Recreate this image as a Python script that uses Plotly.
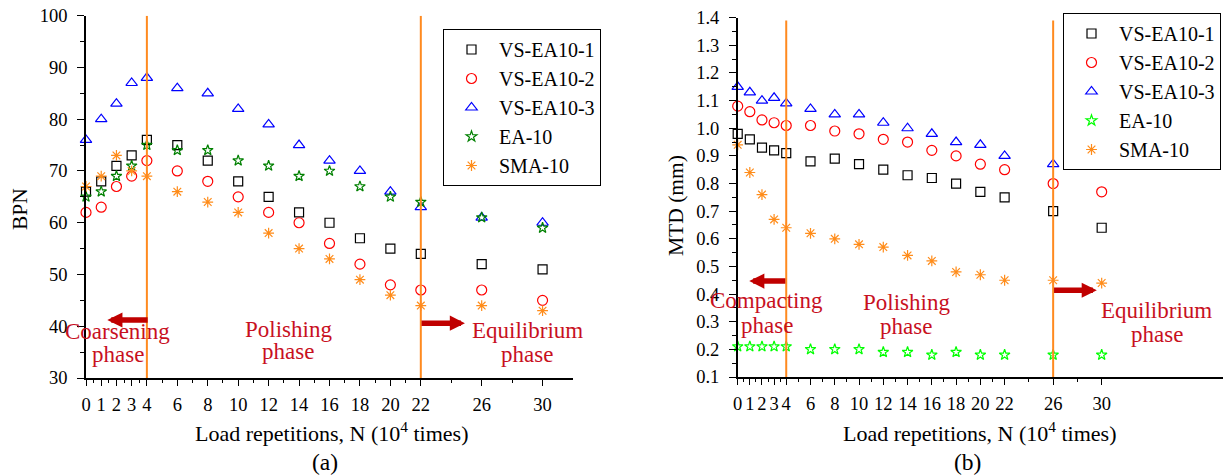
import plotly.graph_objects as go

# Load repetitions (x 10^4)
N = [0, 1, 2, 3, 4, 6, 8, 10, 12, 14, 16, 18, 20, 22, 26, 30]

# (a) British Pendulum Number
bpn_vs1 = [66, 68, 71, 73, 76, 75, 72, 68, 65, 62, 60, 57, 55, 54, 52, 51]
bpn_vs2 = [62, 63, 67, 69, 72, 70, 68, 65, 62, 60, 56, 52, 48, 47, 47, 45]
bpn_vs3 = [76, 80, 83, 87, 88, 86, 85, 82, 79, 75, 72, 70, 66, 63, 61, 60]
bpn_ea = [65, 66, 69, 71, 75, 74, 74, 72, 71, 69, 70, 67, 65, 64, 61, 59]
bpn_sma = [67, 69, 73, 70, 69, 66, 64, 62, 58, 55, 53, 49, 46, 44, 44, 43]

# (b) Mean texture depth (mm)
mtd_vs1 = [0.98, 0.96, 0.93, 0.92, 0.91, 0.88, 0.89, 0.87, 0.85, 0.83, 0.82, 0.80, 0.77, 0.75, 0.70, 0.64]
mtd_vs2 = [1.08, 1.06, 1.03, 1.02, 1.01, 1.01, 0.99, 0.98, 0.96, 0.95, 0.92, 0.90, 0.87, 0.85, 0.80, 0.77]
mtd_vs3 = [1.15, 1.13, 1.10, 1.11, 1.09, 1.07, 1.05, 1.05, 1.02, 1.00, 0.98, 0.95, 0.94, 0.90, 0.87, 0.86]
mtd_ea = [0.21, 0.21, 0.21, 0.21, 0.21, 0.20, 0.20, 0.20, 0.19, 0.19, 0.18, 0.19, 0.18, 0.18, 0.18, 0.18]
mtd_sma = [0.94, 0.84, 0.76, 0.67, 0.64, 0.62, 0.60, 0.58, 0.57, 0.54, 0.52, 0.48, 0.47, 0.45, 0.45, 0.44]

series_names = ["VS-EA10-1", "VS-EA10-2", "VS-EA10-3", "EA-10", "SMA-10"]
x_tick_vals = [0, 1, 2, 3, 4, 6, 8, 10, 12, 14, 16, 18, 20, 22, 26, 30]
x_minor_vals = [0.5, 1.5, 2.5, 3.5, 5, 7, 9, 11, 13, 15, 17, 19, 21, 24, 28]

W, H = 1223, 475
FONT = "Liberation Serif"
PHASE_RED = "#c8101e"
ARROW_RED = "#c00000"
ORANGE = "#ff8a1f"

styles = [
    dict(symbol="square-open", size=9, color="#000000"),
    dict(symbol="circle-open", size=10, color="#ff0000"),
    dict(symbol="triangle-up-open", size=10, color="#0000ff"),
    dict(symbol="star-open", size=8, color="#008000"),
    dict(symbol="asterisk-open", size=9, color="#ff8c1a"),
]

fig = go.Figure()

left_sets = [bpn_vs1, bpn_vs2, bpn_vs3, bpn_ea, bpn_sma]
right_sets = [mtd_vs1, mtd_vs2, mtd_vs3, mtd_ea, mtd_sma]

for name, vals, st in zip(series_names, left_sets, styles):
    fig.add_trace(go.Scatter(
        x=N, y=vals, mode="markers", name=name, legend="legend",
        xaxis="x", yaxis="y", cliponaxis=False,
        marker=dict(symbol=st["symbol"], size=st["size"], color=st["color"],
                    line=dict(width=1.2, color=st["color"])),
    ))

for name, vals, st in zip(series_names, right_sets, styles):
    col = "#00ff00" if name == "EA-10" else st["color"]
    fig.add_trace(go.Scatter(
        x=N, y=vals, mode="markers", name=name, legend="legend2",
        xaxis="x2", yaxis="y2", cliponaxis=False,
        marker=dict(symbol=st["symbol"], size=st["size"], color=col,
                    line=dict(width=1.2, color=col)),
    ))

def px_x(p):
    return p / W

def px_y(p):
    return 1 - p / H

common_x = dict(
    tickmode="array", tickvals=x_tick_vals, ticktext=[str(v) for v in x_tick_vals],
    ticks="outside", ticklen=6, tickwidth=1.2, tickcolor="black",
    showline=True, linecolor="black", linewidth=1.5, showgrid=False, zeroline=False,
    tickfont=dict(family=FONT, size=18.5, color="black"), ticklabelstandoff=3,
    minor=dict(tickmode="array", tickvals=x_minor_vals, ticks="outside", ticklen=3.5,
               tickwidth=1.2, tickcolor="black", showgrid=False),
)
common_y = dict(
    ticks="outside", ticklen=7, tickwidth=1.2, tickcolor="black",
    showline=True, linecolor="black", linewidth=1.5, showgrid=False, zeroline=False,
    tickfont=dict(family=FONT, size=18.5, color="black"), ticklabelstandoff=6,
)

legend_style = dict(xanchor="left", yanchor="top", bgcolor="white",
                    bordercolor="black", borderwidth=1, itemwidth=45,
                    font=dict(family=FONT, size=20, color="black"))

fig.update_layout(
    width=W, height=H,
    margin=dict(l=0, r=0, t=0, b=0, autoexpand=False),
    paper_bgcolor="white", plot_bgcolor="white",
    font=dict(family=FONT, color="black"),
    xaxis=dict(domain=[px_x(86), px_x(573)], range=[0, 32], anchor="y", **common_x),
    yaxis=dict(domain=[px_y(378), px_y(15.7)], range=[30, 100], anchor="x",
               tickmode="array", tickvals=[30, 40, 50, 60, 70, 80, 90, 100],
               minor=dict(dtick=5, ticks="outside", ticklen=4, tickwidth=1.2,
                          tickcolor="black", showgrid=False),
               **common_y),
    xaxis2=dict(domain=[px_x(737.7), 1.0], range=[0, 40], anchor="y2", **common_x),
    yaxis2=dict(domain=[px_y(377), px_y(17.7)], range=[0.1, 1.4], anchor="x2",
                tickmode="linear", tick0=0.1, dtick=0.1, tickformat=".1f",
                minor=dict(dtick=0.05, ticks="outside", ticklen=4, tickwidth=1.2,
                           tickcolor="black", showgrid=False),
                **common_y),
    legend=dict(x=px_x(443), y=px_y(29), **legend_style),
    legend2=dict(x=px_x(1063), y=px_y(13), **legend_style),
)

# Phase boundaries
for xv, xr, yr, y0, y1 in [(4, "x", "y", 30, 100), (22, "x", "y", 30, 100),
                           (4, "x2", "y2", 0.1, 1.39), (26, "x2", "y2", 0.1, 1.39)]:
    fig.add_shape(type="line", xref=xr, yref=yr, x0=xv, x1=xv, y0=y0, y1=y1,
                  line=dict(color=ORANGE, width=2), layer="above")

# Phase arrows (tip, tail)
arrows = [
    ("x", "y", 1.4, 41.2, 4.15, 41.2),
    ("x", "y", 24.9, 40.6, 21.95, 40.6),
    ("x2", "y2", 0.95, 0.447, 4.05, 0.447),
    ("x2", "y2", 29.6, 0.414, 25.95, 0.414),
]
for xr, yr, x, y, ax, ay in arrows:
    fig.add_annotation(xref=xr, yref=yr, x=x, y=y, ax=ax, ay=ay, axref=xr, ayref=yr,
                       text="", showarrow=True, arrowhead=2, arrowsize=0.55,
                       arrowwidth=5.5, arrowcolor=ARROW_RED, standoff=0)

# Phase labels
phase_labels = [
    ("x", "y", 2.1, 38.9, "Coarsening"), ("x", "y", 2.1, 34.6, "phase"),
    ("x", "y", 13.3, 39.4, "Polishing"), ("x", "y", 13.3, 35.2, "phase"),
    ("x", "y", 29.0, 39.2, "Equilibrium"), ("x", "y", 29.0, 34.6, "phase"),
    ("x2", "y2", 2.4, 0.375, "Compacting"), ("x2", "y2", 2.4, 0.288, "phase"),
    ("x2", "y2", 13.9, 0.368, "Polishing"), ("x2", "y2", 13.9, 0.284, "phase"),
    ("x2", "y2", 34.55, 0.342, "Equilibrium"), ("x2", "y2", 34.55, 0.252, "phase"),
]
for xr, yr, x, y, t in phase_labels:
    fig.add_annotation(xref=xr, yref=yr, x=x, y=y, text=t, showarrow=False,
                       xanchor="center", yanchor="middle",
                       font=dict(family=FONT, size=23, color=PHASE_RED))

# Axis titles and panel captions
xtitle = "Load repetitions, N (10<sup>4</sup> times)"
texts = [
    (px_x(332), px_y(432), xtitle, 0, 22),
    (px_x(980), px_y(432), xtitle, 0, 22),
    (px_x(20), px_y(209), "BPN", -90, 21.5),
    (px_x(676), px_y(206), "MTD (mm)", -90, 21.5),
    (px_x(325), px_y(462), "(a)", 0, 23.5),
    (px_x(967), px_y(462), "(b)", 0, 23.5),
]
for x, y, t, ang, sz in texts:
    fig.add_annotation(xref="paper", yref="paper", x=x, y=y, text=t, showarrow=False,
                       xanchor="center", yanchor="middle", textangle=ang,
                       font=dict(family=FONT, size=sz, color="black"))

fig.write_html("out.html")
